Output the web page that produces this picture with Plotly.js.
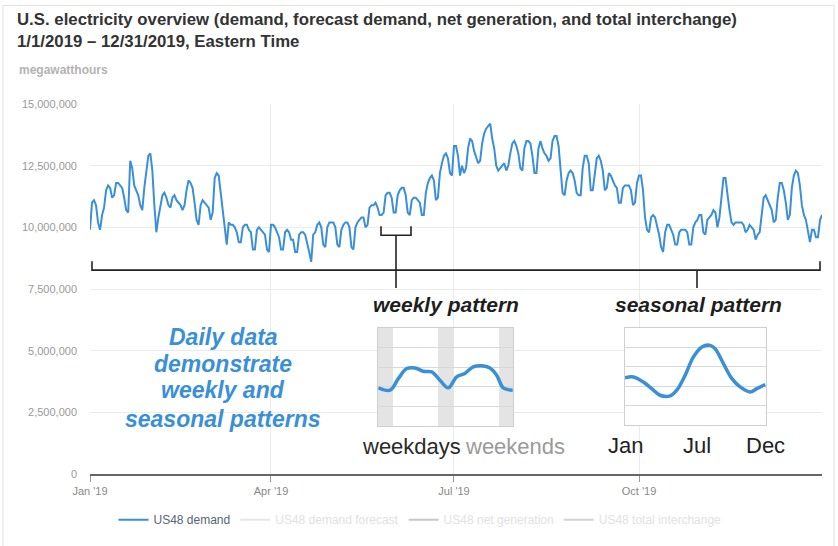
<!DOCTYPE html>
<html><head><meta charset="utf-8">
<script src="https://cdn.plot.ly/plotly-3.0.1.min.js"></script>
<style>html,body{margin:0;padding:0;background:#fff;}#chart{width:838px;height:546px;}</style>
</head><body><div id="chart"></div>
<script>
// ---- daily US48 demand, MWh ----
const jan = [9.9e6,11.0e6,11.1e6,10.9e6,10.2e6,9.9e6,10.5e6,10.8e6,11.5e6,11.7e6,11.6e6,11.2e6,11.3e6,11.8e6,11.8e6,11.7e6,11.6e6,11.2e6,10.7e6,10.6e6,12.7e6,12.4e6,11.7e6,11.5e6,11.3e6,10.9e6,10.7e6,11.6e6,12.2e6,12.9e6,13.0e6];
const feb = [12.3e6,10.9e6,9.8e6,10.4e6,10.8e6,11.3e6,11.4e6,11.2e6,10.9e6,10.8e6,11.2e6,11.3e6,11.1e6,11.0e6,10.9e6,10.7e6,10.9e6,11.5e6,11.9e6,11.8e6,11.6e6,11.0e6,10.3e6,10.1e6,10.9e6,11.1e6,11.0e6,10.9e6];
const mar = [10.8e6,10.3e6,10.6e6,12.0e6,12.2e6,12.1e6,11.4e6,10.8e6,10.0e6,9.3e6,10.2e6,10.1e6,10.1e6,10.0e6,9.8e6,9.4e6,9.4e6,10.0e6,10.1e6,10.1e6,9.9e6,9.8e6,9.1e6,9.1e6,9.9e6,10.0e6,9.9e6,9.8e6,9.7e6,9.1e6,9.0e6];
const apr = [10.1e6,10.1e6,10.0e6,9.8e6,9.6e6,9.1e6,9.1e6,9.8e6,9.9e6,9.8e6,9.5e6,9.5e6,9.0e6,9.0e6,9.7e6,9.8e6,9.8e6,9.7e6,9.4e6,9.0e6,8.6e6,9.7e6,9.8e6,10.1e6,10.2e6,10.0e6,9.3e6,9.2e6,10.0e6,10.2e6];
const may = [10.2e6,10.2e6,10.0e6,9.3e6,9.2e6,9.9e6,10.1e6,10.2e6,10.2e6,10.0e6,9.2e6,9.1e6,10.0e6,10.2e6,10.3e6,10.4e6,10.4e6,10.0e6,10.1e6,10.8e6,10.9e6,10.9e6,11.0e6,10.8e6,10.5e6,10.5e6,10.6e6,11.3e6,11.4e6,11.4e6,11.2e6];
const jun = [10.6e6,10.6e6,11.3e6,11.5e6,11.6e6,11.6e6,11.3e6,10.6e6,10.5e6,11.1e6,11.2e6,11.2e6,11.1e6,11.0e6,10.5e6,10.5e6,11.4e6,11.8e6,12.0e6,12.1e6,11.9e6,11.1e6,11.2e6,12.2e6,12.6e6,12.9e6,13.0e6,12.8e6,12.2e6,12.1e6];
const jul = [13.3e6,13.3e6,12.9e6,12.1e6,12.5e6,12.2e6,12.4e6,13.2e6,13.6e6,13.5e6,13.1e6,12.8e6,12.6e6,12.7e6,13.4e6,13.8e6,14.0e6,14.1e6,14.2e6,13.6e6,13.2e6,12.5e6,12.3e6,12.4e6,12.5e6,12.6e6,12.3e6,12.5e6,13.0e6,13.4e6,13.5e6];
const aug = [13.3e6,13.0e6,12.4e6,12.3e6,13.2e6,13.5e6,13.5e6,13.4e6,12.9e6,12.2e6,12.2e6,13.2e6,13.5e6,13.2e6,13.0e6,12.9e6,12.7e6,12.8e6,13.5e6,13.7e6,13.7e6,13.3e6,12.5e6,11.4e6,11.3e6,11.9e6,12.2e6,12.3e6,12.2e6,11.9e6,11.4e6];
const sep = [11.3e6,11.3e6,12.4e6,12.9e6,12.9e6,12.6e6,11.5e6,11.5e6,12.3e6,12.8e6,12.9e6,12.7e6,12.3e6,11.5e6,11.6e6,12.2e6,12.1e6,11.9e6,11.7e6,11.6e6,11.0e6,11.0e6,11.6e6,11.7e6,11.7e6,11.7e6,11.5e6,10.9e6,11.0e6,11.8e6];
const oct = [12.1e6,12.1e6,11.5e6,10.4e6,9.9e6,9.8e6,10.4e6,10.5e6,10.4e6,10.1e6,9.7e6,9.2e6,9.0e6,9.8e6,10.1e6,10.1e6,9.9e6,9.7e6,9.3e6,9.3e6,9.8e6,9.9e6,9.9e6,9.9e6,9.8e6,9.3e6,9.3e6,10.0e6,10.2e6,10.3e6,10.5e6];
const nov = [10.5e6,9.8e6,9.7e6,10.3e6,10.4e6,10.5e6,10.7e6,10.6e6,10.0e6,10.4e6,11.2e6,12.0e6,12.0e6,11.3e6,10.7e6,10.2e6,10.1e6,10.2e6,10.2e6,10.2e6,10.2e6,10.1e6,9.8e6,9.9e6,10.1e6,10.0e6,9.9e6,9.5e6,9.7e6,9.8e6];
const dec = [10.6e6,11.2e6,11.3e6,11.1e6,10.9e6,10.7e6,10.2e6,10.3e6,11.2e6,11.8e6,11.8e6,11.5e6,11.0e6,10.3e6,10.5e6,11.6e6,12.1e6,12.3e6,12.2e6,11.7e6,10.9e6,10.5e6,10.3e6,9.9e6,9.4e6,9.9e6,9.9e6,9.6e6,9.6e6,10.3e6,10.5e6];

const xTickVals = ['2019-01-01','2019-04-01','2019-07-01','2019-10-01'];
const xTickText = ["Jan '19","Apr '19","Jul '19","Oct '19"];
const yTickVals = [0,2.5e6,5e6,7.5e6,10e6,12.5e6,15e6];
const legendNames = ['US48 demand','US48 demand forecast','US48 net generation','US48 total interchange'];

// weekly-pattern inset (days, relative level)
const weeklyDay = [0.05,1.4,2.36,3.34,4.3,5.27,6.24,7.2,8.17,9.15,10.1,11.08,12.06,13.02,13.8,14.57,15.66];
const weeklyVal = [1.95,1.83,2.42,2.93,2.96,2.79,2.76,2.34,1.95,2.51,2.68,3.02,3.07,2.96,2.59,1.95,1.83];
const weekendBands = [[0,1.74],[6.98,8.84],[14.07,15.7]];
const weekLabels = ['weekdays','weekends'];
// seasonal-pattern inset (month, relative level)
const seasonMonth = [1.0,1.65,2.43,3.08,3.73,4.52,5.04,5.69,6.34,7.0,7.64,8.03,8.68,9.34,9.98,10.77,11.29,11.94];
const seasonVal = [2.43,2.48,2.22,1.88,1.54,1.51,1.8,2.56,3.51,4.02,4.1,3.93,3.16,2.39,1.97,1.71,1.88,2.09];
const seasonLabels = ['Jan','Jul','Dec'];

const demand = [].concat(jan,feb,mar,apr,may,jun,jul,aug,sep,oct,nov,dec);
const dates = demand.map((_, i) => new Date(Date.UTC(2019,0,1+i)).toISOString().slice(0,10));

const FONT = 'Liberation Sans, Arial, sans-serif';
const BLUE = '#3a8fd9';
const L=90, R=822, T=104, B=476;
const px = x => (x-L)/(R-L);
const py = y => (B-y)/(B-T);
const WX = [0,15.7], SX = [1,12], IY = [0,5];

const hidden = (name, color) => ({type:'scatter', mode:'lines', x:[dates[0]], y:[null], name:'<span style="color:#c4c4c4">'+name+'</span>', line:{color:color, width:2}, visible:'legendonly', hoverinfo:'skip'});

const data = [
  {type:'scatter', mode:'lines', x:dates, y:demand, name:legendNames[0], line:{color:BLUE, width:2}, hoverinfo:'skip'},
  hidden(legendNames[1], '#d0d0d0'),
  hidden(legendNames[2], '#909090'),
  hidden(legendNames[3], '#a8a8a8'),
  {type:'scatter', mode:'lines', x:weeklyDay, y:weeklyVal, xaxis:'x2', yaxis:'y2', showlegend:false, hoverinfo:'skip', line:{color:BLUE, width:3.5, shape:'spline'}},
  {type:'scatter', mode:'lines', x:seasonMonth, y:seasonVal, xaxis:'x3', yaxis:'y3', showlegend:false, hoverinfo:'skip', line:{color:BLUE, width:3.5, shape:'spline'}}
];

const insetAxis = (dom, rng, anchor) => ({domain:dom, range:rng, anchor:anchor, showgrid:false, zeroline:false, showticklabels:false, ticks:'', showline:true, mirror:true, linecolor:'#cfcfcf', linewidth:1, fixedrange:true});
const insetYAxis = (dom, anchor) => ({domain:dom, range:IY, anchor:anchor, tickvals:[1,2,3,4], showgrid:true, gridcolor:'#d8d8d8', zeroline:false, showticklabels:false, ticks:'', showline:true, mirror:true, linecolor:'#cfcfcf', linewidth:1, fixedrange:true});

const shapes = [
  {type:'rect', xref:'paper', yref:'paper', x0:px(3), x1:px(834), y0:py(5), y1:py(560), line:{color:'#e0e0e0', width:1}, layer:'below'},
  // year bracket
  {type:'path', xref:'paper', yref:'paper', path:`M ${px(92)},${py(262)} L ${px(92)},${py(271)} L ${px(820)},${py(271)} L ${px(820)},${py(262)}`, line:{color:'#222', width:1.6}},
  // week bracket + stems
  {type:'path', xref:'paper', yref:'paper', path:`M ${px(381)},${py(227)} L ${px(381)},${py(236)} L ${px(411)},${py(236)} L ${px(411)},${py(227)}`, line:{color:'#222', width:1.6}},
  {type:'line', xref:'paper', yref:'paper', x0:px(396), x1:px(396), y0:py(236), y1:py(289), line:{color:'#222', width:1.6}},
  {type:'line', xref:'paper', yref:'paper', x0:px(697), x1:px(697), y0:py(271), y1:py(289), line:{color:'#222', width:1.6}},
  // inset backgrounds
  {type:'rect', xref:'x2', yref:'y2', x0:WX[0], x1:WX[1], y0:IY[0], y1:IY[1], fillcolor:'#fff', line:{width:0}, layer:'below'},
  {type:'rect', xref:'x3', yref:'y3', x0:SX[0], x1:SX[1], y0:IY[0], y1:IY[1], fillcolor:'#fff', line:{width:0}, layer:'below'}
].concat(weekendBands.map(b => ({type:'rect', xref:'x2', yref:'y2', x0:b[0], x1:b[1], y0:IY[0], y1:IY[1], fillcolor:'#e4e4e4', line:{width:0}, layer:'below'})));

const ann = (x, y, text, size, color, extra) => Object.assign({xref:'paper', yref:'paper', x:px(x), y:py(y), text:text, showarrow:false, font:{family:FONT, size:size, color:color}, xanchor:'center', yanchor:'middle'}, extra||{});

const annotations = [
  ann(17, 70, '<b>megawatthours</b>', 12, '#b3b3b3', {xanchor:'left'}),
  ann(446, 306, '<b><i>weekly pattern</i></b>', 21, '#1e1e1e'),
  ann(698, 306, '<b><i>seasonal pattern</i></b>', 21, '#1e1e1e'),
  ann(223, 338, '<b><i>Daily data</i></b>', 23, BLUE),
  ann(223, 365, '<b><i>demonstrate</i></b>', 23, BLUE),
  ann(223, 392, '<b><i>weekly and</i></b>', 23, BLUE),
  ann(223, 421, '<b><i>seasonal patterns</i></b>', 23, BLUE),
  ann(411, 448, weekLabels[0], 22, '#2a2a2a'),
  ann(515, 448, weekLabels[1], 22, '#9a9a9a'),
  ann(625, 447, seasonLabels[0], 22, '#222'),
  ann(697, 447, seasonLabels[1], 22, '#222'),
  ann(765, 447, seasonLabels[2], 22, '#222')
];

const layout = {
  width:838, height:546,
  margin:{l:L, r:838-R, t:T, b:546-B},
  paper_bgcolor:'#fff', plot_bgcolor:'#fff',
  font:{family:FONT, color:'#555'},
  title:{text:'<b>U.S. electricity overview (demand, forecast demand, net generation, and total interchange)<br>1/1/2019 – 12/31/2019, Eastern Time</b>', font:{family:FONT, size:16.8, color:'#333'}, xref:'container', yref:'container', x:17/838, xanchor:'left', y:1-25/546, yanchor:'top'},
  showlegend:true,
  legend:{orientation:'h', xref:'paper', yref:'paper', x:px(420), xanchor:'center', y:py(522), yanchor:'middle', font:{family:FONT, size:12, color:'#55657a'}, bgcolor:'rgba(0,0,0,0)'},
  xaxis:{type:'date', range:['2019-01-01','2019-12-31'], tickvals:xTickVals, ticktext:xTickText, tickfont:{family:FONT, size:11, color:'#888'}, showgrid:true, gridcolor:'#ebebeb', ticks:'outside', ticklen:6, tickcolor:'#999', showline:true, linecolor:'#666', linewidth:1.5, zeroline:false, fixedrange:true},
  yaxis:{range:[0,15e6], tickvals:yTickVals, tickformat:',d', tickfont:{family:FONT, size:11, color:'#999'}, showgrid:true, gridcolor:'#ebebeb', zeroline:false, showline:false, ticks:'', ticklabelstandoff:12, fixedrange:true},
  xaxis2: insetAxis([px(378), px(513)], WX, 'y2'),
  yaxis2: insetYAxis([py(428), py(329)], 'x2'),
  xaxis3: insetAxis([px(625), px(766)], SX, 'y3'),
  yaxis3: insetYAxis([py(427), py(329)], 'x3'),
  shapes: shapes,
  annotations: annotations
};

Plotly.newPlot('chart', data, layout, {displayModeBar:false, staticPlot:true});
</script></body></html>
